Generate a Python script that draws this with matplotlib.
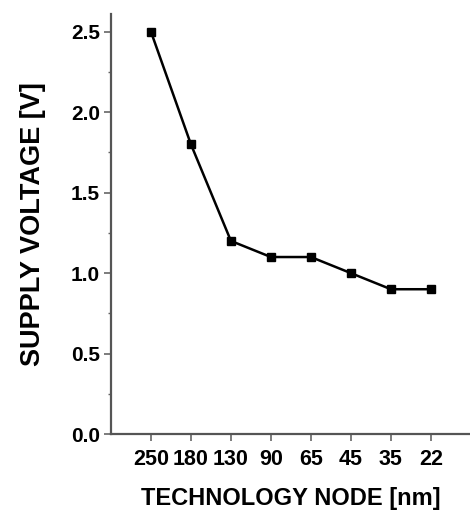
import matplotlib
matplotlib.use('Agg')
import matplotlib.pyplot as plt
from matplotlib.ticker import MultipleLocator, FormatStrFormatter

# technology nodes and supply voltage
nodes = ['250', '180', '130', '90', '65', '45', '35', '22']
voltage = [2.5, 1.8, 1.2, 1.1, 1.1, 1.0, 0.9, 0.9]

plt.rcParams['font.family'] = ['Liberation Sans', 'DejaVu Sans']
plt.rcParams['font.weight'] = 'bold'

fig = plt.figure(figsize=(4.7, 5.15), dpi=100)
ax = fig.add_axes([0.236, 0.157, 0.766, 0.816])

x = list(range(len(nodes)))
ax.plot(x, voltage, color='black', lw=1.8, marker='s', ms=5.5)

ax.set_xlim(-1, 8)
ax.set_ylim(0, 2.61)
ax.set_xticks(x)
ax.set_xticklabels(nodes, fontsize=15.5, fontweight='bold')
ax.yaxis.set_major_locator(MultipleLocator(0.5))
ax.yaxis.set_minor_locator(MultipleLocator(0.25))
ax.yaxis.set_major_formatter(FormatStrFormatter('%.1f'))

for s in ['top', 'right']:
    ax.spines[s].set_visible(False)
for s in ['left', 'bottom']:
    ax.spines[s].set_linewidth(1.6)
    ax.spines[s].set_color('#555555')

ax.tick_params(axis='both', which='major', direction='out', length=5, width=1.2,
               color='#666666')
ax.tick_params(axis='x', pad=6)
ax.tick_params(axis='y', labelsize=15, pad=3)
ax.tick_params(axis='y', which='minor', direction='out', length=2.5, width=1.0, color='#666666')

ax.set_xlabel('TECHNOLOGY NODE [nm]', fontsize=17, fontweight='bold', labelpad=12)
ax.set_ylabel('SUPPLY VOLTAGE [V]', fontsize=19.5, fontweight='bold', labelpad=18)

fig.savefig('out.png', dpi=100)
